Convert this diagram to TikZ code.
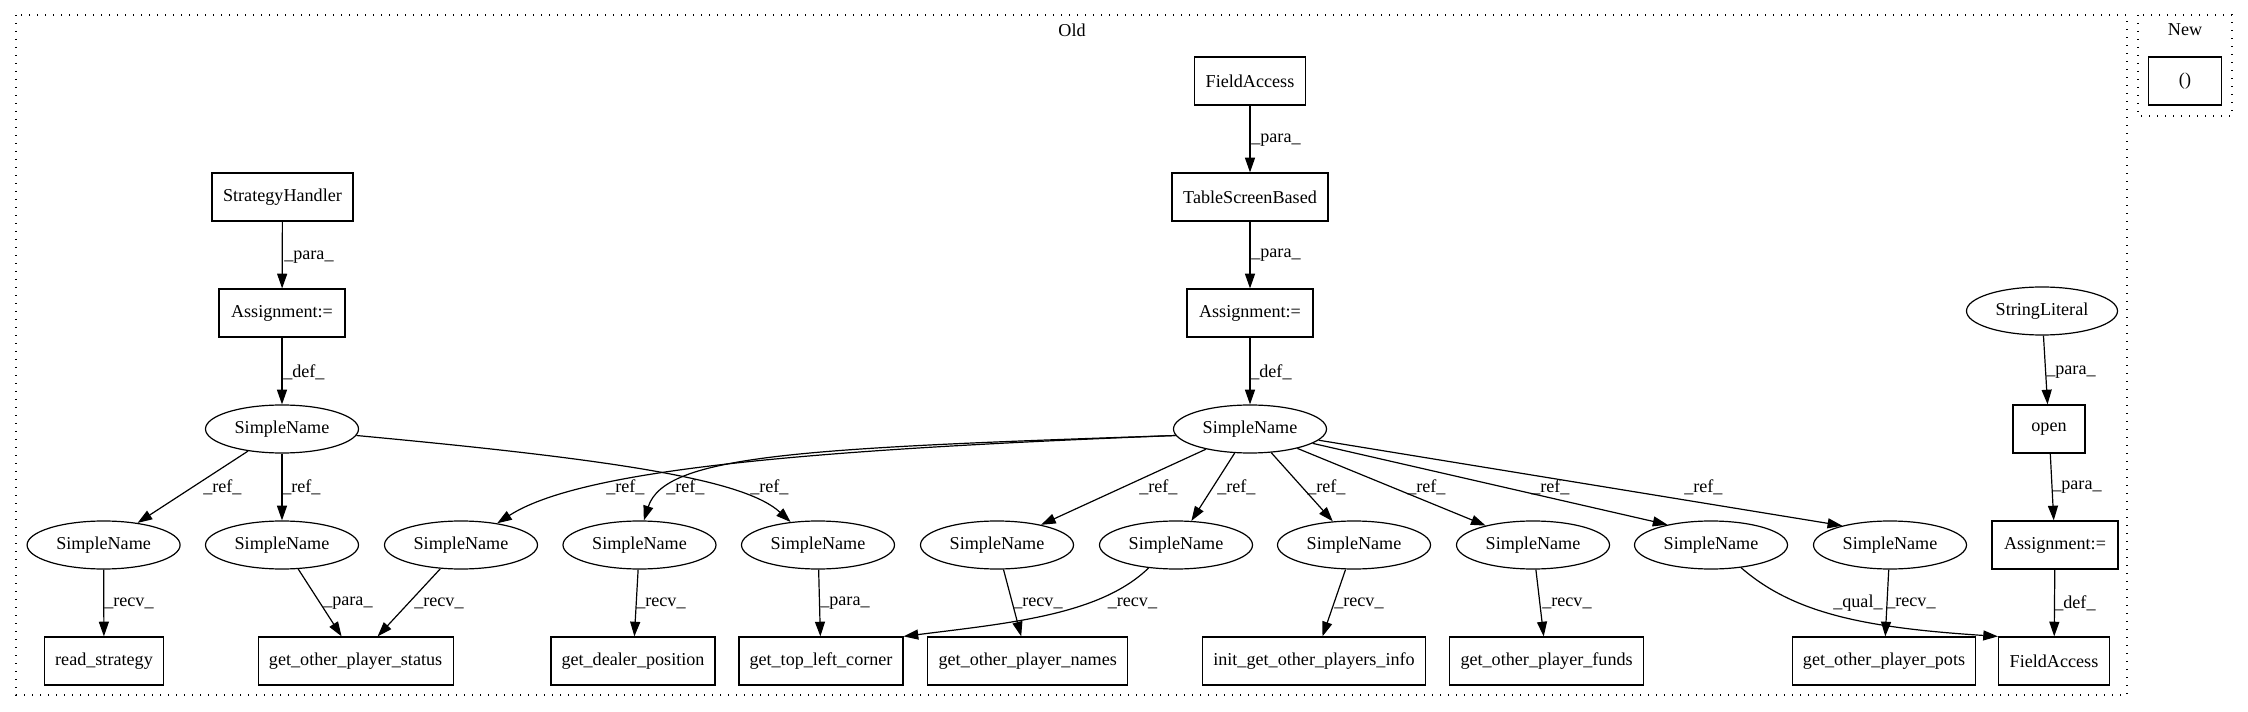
\documentclass[tikz,border=0pt]{standalone}
\usepackage{fontspec}
\setmainfont{Liberation Serif}
\usetikzlibrary{shapes.geometric,arrows.meta,calc}
\begin{document}
\begin{tikzpicture}[x=0.75pt,y=-0.75pt,
  every node/.style={font=\fontsize{13.6}{16}\selectfont},
  nbox/.style={draw, rectangle, line width=0.9pt, inner sep=0pt, minimum height=36pt, minimum width={#1*0.75pt}},
  nell/.style={draw, ellipse, line width=0.9pt, inner sep=0pt, minimum height=36pt, minimum width=114.75pt},
  conn/.style={line width=0.9pt, -{Triangle[length=11pt,width=7.5pt]}},
  lab/.style={anchor=west, inner sep=0pt},
  cluster/.style={line width=1pt, dash pattern=on 1pt off 5pt}
]
\useasboundingbox (0,0) rectangle (2248,712);
% clusters
\draw[cluster] (16,15) rectangle (2127,695);
\draw[cluster] (2138,15) rectangle (2232,116);
\node (oldlab) at (1072,30) {Old};
\node (newlab) at (2185,30) {New};
% top nodes
\node[nbox=141] (sh) at (282.5,197) {StrategyHandler};
\node[nbox=126] (asL) at (282,313) {Assignment:=};
\node[nell] (snL) at (282,429) {SimpleName};
\node[nbox=111] (faT) at (1250,81) {FieldAccess};
\node[nbox=156] (tsb) at (1250,197) {TableScreenBased};
\node[nbox=126] (asM) at (1250,313) {Assignment:=};
\node[nell] (snM) at (1250,429) {SimpleName};
\node[nell, minimum width=113.25pt] (sl) at (2042,311) {StringLiteral};
\node[nbox=72] (op) at (2049,429) {open};
\node[nbox=126] (asR) at (2055,545) {Assignment:=};
\node[nbox=111] (faB) at (2054,661) {FieldAccess};
\node[nbox=73] (nw) at (2185,81) {()};
% SimpleName row
\node[nell] (sn1) at (103.6,545) {SimpleName};
\node[nell] (sn2) at (282,545) {SimpleName};
\node[nell] (sn3) at (461,545) {SimpleName};
\node[nell] (sn4) at (639.5,545) {SimpleName};
\node[nell] (sn5) at (818,545) {SimpleName};
\node[nell] (sn6) at (997,545) {SimpleName};
\node[nell] (sn7) at (1176,545) {SimpleName};
\node[nell] (sn8) at (1354,545) {SimpleName};
\node[nell] (sn9) at (1533,545) {SimpleName};
\node[nell] (sn10) at (1711,545) {SimpleName};
\node[nell] (sn11) at (1890,545) {SimpleName};
% bottom boxes
\node[nbox=118.5] (rs) at (104,661) {read\_strategy};
\node[nbox=195] (gops) at (355.6,661) {get\_other\_player\_status};
\node[nbox=164] (gdp) at (633,661) {get\_dealer\_position};
\node[nbox=164] (gtlc) at (821,661) {get\_top\_left\_corner};
\node[nbox=200] (gopn) at (1027.7,661) {get\_other\_player\_names};
\node[nbox=222.6] (init) at (1314,661) {init\_get\_other\_players\_info};
\node[nbox=193.6] (gopf) at (1546.6,661) {get\_other\_player\_funds};
\node[nbox=182.4] (gopp) at (1884,661) {get\_other\_player\_pots};
% edges
\draw[conn] (sh) -- (asL);
\draw[conn] (asL) -- (snL);
\draw[conn] (faT) -- (tsb);
\draw[conn] (tsb) -- (asM);
\draw[conn] (asM) -- (snM);
\draw[conn] (sl) -- (op);
\draw[conn] (op) -- (asR);
\draw[conn] (asR) -- (faB);
\draw[conn] (snL) -- (sn1);
\draw[conn] (snL) -- (sn2);
\draw[conn] (snL.-5) .. controls (620,460) and (745,480) .. (sn5.140);
\draw[conn] (snM.185) .. controls (800,450) and (580,470) .. (sn3.31);
\draw[conn] (snM.185) .. controls (800,448) and (665,455) .. (sn4.80);
\draw[conn] (snM) -- (sn6);
\draw[conn] (snM) -- (sn7);
\draw[conn] (snM) -- (sn8);
\draw[conn] (snM) -- (sn9);
\draw[conn] (snM) -- (sn10.155);
\draw[conn] (snM) -- (sn11.158);
\draw[conn] (sn1) -- (rs);
\draw[conn] (sn2.-56) -- ($(gops.north)+(-14,0)$);
\draw[conn] (sn3.229) -- ($(gops.north)+(22,0)$);
\draw[conn] (sn4) -- (gdp);
\draw[conn] (sn5) -- (gtlc);
\draw[conn] (sn6) -- (gopn);
\draw[conn] (sn7.220) .. controls (1100,615) and (1010,623) .. (gtlc.north east);
\draw[conn] (sn8) -- (init);
\draw[conn] (sn9) -- (gopf);
\draw[conn] (sn10.-37) .. controls (1795,615) and (1870,628) .. (faB.north west);
\draw[conn] (sn11) -- (gopp);
% edge labels
\node[lab] (l1) at (284,257) {\_para\_};
\node[lab] (l2) at (1251,140) {\_para\_};
\node[lab] (l3) at (1251,255) {\_para\_};
\node[lab] (l4) at (283,372) {\_def\_};
\node[lab] (l5) at (1250,372) {\_def\_};
\node[lab] (l6) at (2046,372) {\_para\_};
\node[lab] (l7) at (2052,487) {\_para\_};
\node[lab] (l8) at (2054,603) {\_def\_};
\node[lab] (r1) at (203,487) {\_ref\_};
\node[lab] (r2) at (282,487) {\_ref\_};
\node[lab] (r3) at (606,487) {\_ref\_};
\node[lab] (r4) at (666,487) {\_ref\_};
\node[lab] (r5) at (750,487) {\_ref\_};
\node[lab] (r6) at (1139,487) {\_ref\_};
\node[lab] (r7) at (1217,487) {\_ref\_};
\node[lab] (r8) at (1307,487) {\_ref\_};
\node[lab] (r9) at (1407,487) {\_ref\_};
\node[lab] (r10) at (1531,487) {\_ref\_};
\node[lab] (r11) at (1684,487) {\_ref\_};
\node[lab] (b1) at (104,603) {\_recv\_};
\node[lab] (b2) at (323,603) {\_para\_};
\node[lab] (b3) at (414,603) {\_recv\_};
\node[lab] (b4) at (636,603) {\_recv\_};
\node[lab] (b5) at (820,603) {\_para\_};
\node[lab] (b6) at (1013,603) {\_recv\_};
\node[lab] (b7) at (1107.5,603) {\_recv\_};
\node[lab] (b8) at (1334,603) {\_recv\_};
\node[lab] (b9) at (1542,603) {\_recv\_};
\node[lab] (b10) at (1833,603) {\_qual\_};
\node[lab] (b11) at (1886,603) {\_recv\_};
\end{tikzpicture}
\end{document}
